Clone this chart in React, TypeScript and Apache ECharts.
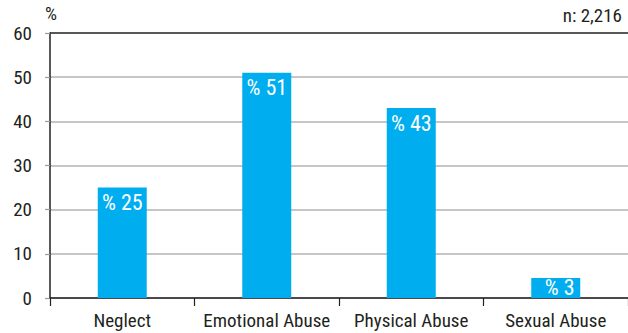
import React, { useEffect, useRef } from "react";
import * as echarts from "echarts";

const categories = ["Neglect", "Emotional Abuse", "Physical Abuse", "Sexual Abuse"];
const percentages = [25, 51, 43, 3];
const yTicks = [0, 10, 20, 30, 40, 50, 60];
const unitLabel = "%";
const sampleLabel = "n: 2,216";

const FONT = "'Roboto Condensed', 'Liberation Sans Narrow', sans-serif";
const INK = "#231f20";
const BAR = "#00aeef";
// bars shorter than this get their label pinned to the bottom of the bar
const SHORT_BAR = 5;

export default function App() {
  const ref = useRef<HTMLDivElement>(null);

  useEffect(() => {
    if (!ref.current) return;
    const chart = echarts.init(ref.current, null, { renderer: "svg" });
    // gridlines are grey, except the top one which closes the frame
    const splitColors = yTicks.map((_, i) => (i === yTicks.length - 1 ? INK : "#b3b3b3"));
    const barData = percentages.map((v) =>
      v < SHORT_BAR
        ? { value: v, label: { position: "insideBottom", distance: 0, offset: [4, 0] } }
        : v
    );
    chart.setOption({
      animation: false,
      textStyle: { fontFamily: FONT },
      grid: { left: 50, right: -2, top: 33, bottom: 35, containLabel: false },
      xAxis: {
        type: "category",
        data: categories,
        axisLine: { show: true, lineStyle: { color: INK, width: 1.5 } },
        axisTick: { show: true, length: 8, lineStyle: { color: INK, width: 1.2 } },
        axisLabel: { color: INK, fontSize: 19, margin: 13, interval: 0, fontFamily: FONT },
      },
      yAxis: {
        type: "value",
        min: yTicks[0],
        max: yTicks[yTicks.length - 1],
        interval: 10,
        axisLine: { show: true, lineStyle: { color: INK, width: 1.5 } },
        axisTick: { show: true, length: 5, lineStyle: { color: "#9a9a9a", width: 1.2 } },
        axisLabel: { color: INK, fontSize: 19, margin: 18, fontFamily: FONT },
        splitLine: { show: true, lineStyle: { color: splitColors, width: 1.5 } },
      },
      series: [
        {
          type: "bar",
          data: barData,
          barWidth: 49,
          barMinHeight: 20,
          itemStyle: { color: BAR },
          label: {
            show: true,
            position: "insideTop",
            distance: 4,
            color: "#ffffff",
            fontSize: 22,
            fontFamily: FONT,
            formatter: (p: any) => `% ${p.value}`,
          },
        },
      ],
      graphic: [
        {
          type: "text",
          left: 45,
          top: 4,
          style: { text: unitLabel, fill: INK, fontSize: 19, fontFamily: FONT },
        },
        {
          type: "text",
          right: 6,
          top: 6,
          style: { text: sampleLabel, fill: INK, fontSize: 19, fontFamily: FONT },
        },
      ],
    });
    return () => chart.dispose();
  }, []);

  return <div ref={ref} style={{ width: 628, height: 333, position: "absolute", left: 0, top: 0 }} />;
}
